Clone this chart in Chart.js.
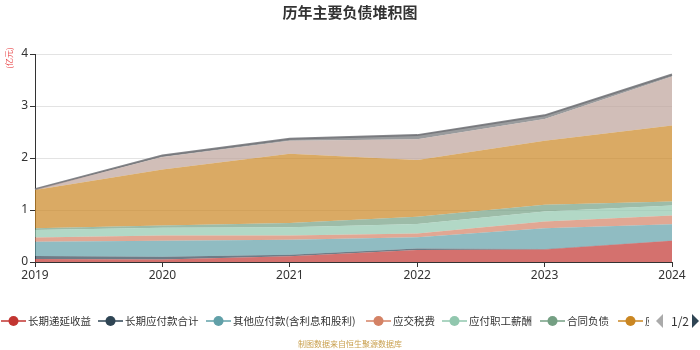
<!DOCTYPE html>
<html>
<head>
<meta charset="utf-8">
<script src="https://cdn.jsdelivr.net/npm/chart.js@4.4.1/dist/chart.umd.min.js"></script>
<style>
  html, body { margin: 0; padding: 0; background: #fff; }
  #wrap { position: relative; width: 700px; height: 350px; overflow: hidden; font-family: "Noto Sans CJK SC", "Noto Sans", sans-serif; }
  #c { position: absolute; left: 0; top: 0; }
  #title { position: absolute; top: 2px; left: 0; width: 700px; text-align: center; font-size: 15px; font-weight: bold; color: #333; line-height: 20px; }
  #unit { position: absolute; left: -4px; top: 52px; width: 26px; height: 12px; font-size: 8px; line-height: 12px; color: #e8484a; transform: rotate(-90deg); text-align: center; white-space: nowrap; }
  #legend { position: absolute; left: 0; top: 312px; width: 649px; height: 18px; overflow: hidden; }
  .li { position: absolute; top: 0; height: 18px; white-space: nowrap; }
  .li svg { position: absolute; left: 0; top: 3px; }
  .li span { position: absolute; left: 27px; top: 0; font-size: 10.5px; line-height: 18px; color: #333; }
  #pager { position: absolute; left: 654px; top: 312px; width: 46px; height: 18px; }
  #pager span { position: absolute; left: 17px; top: 0; font-size: 12px; line-height: 18px; color: #333; }
  #source { position: absolute; left: 0; top: 338px; width: 700px; text-align: center; font-size: 8px; line-height: 12px; color: #c9a04e; }
</style>
</head>
<body>
<div id="wrap">
  <canvas id="c" width="700" height="350"></canvas>
  <div id="title">历年主要负债堆积图</div>
  <div id="unit">(亿元)</div>
  <div id="legend"></div>
  <div id="pager">
    <svg width="46" height="18" style="position:absolute;left:0;top:0">
      <polygon points="9,2 9,16 2,9" fill="#aaaaaa"/>
      <polygon points="38,2 38,16 45,9" fill="#2f4554"/>
    </svg>
    <span>1/2</span>
  </div>
  <div id="source">制图数据来自恒生聚源数据库</div>
</div>
<script>
const years = ['2019', '2020', '2021', '2022', '2023', '2024'];
const seriesNames = ['长期递延收益', '长期应付款合计', '其他应付款(含利息和股利)', '应交税费', '应付职工薪酬', '合同负债', '应付票据及应付账款', '短期借款', '一年内到期的非流动负债'];
const deferredIncome   = [0.06, 0.05, 0.11, 0.23, 0.24, 0.41];
const longTermPayable  = [0.055, 0.05, 0.03, 0.03, 0.01, 0.005];
const otherPayable     = [0.275, 0.31, 0.29, 0.215, 0.40, 0.31];
const taxPayable       = [0.08, 0.10, 0.08, 0.075, 0.13, 0.17];
const staffPayable     = [0.145, 0.15, 0.16, 0.18, 0.19, 0.19];
const contractLiab     = [0.035, 0.04, 0.08, 0.14, 0.13, 0.08];
const notesPayable     = [0.735, 1.08, 1.33, 1.09, 1.23, 1.46];
const shortLoans       = [0.01, 0.24, 0.25, 0.40, 0.42, 0.94];
const currentNonCur    = [0.005, 0.03, 0.04, 0.08, 0.07, 0.04];
const yTicks = [0, 1, 2, 3, 4];

const seriesValues = [deferredIncome, longTermPayable, otherPayable, taxPayable, staffPayable, contractLiab, notesPayable, shortLoans, currentNonCur];
const palette = ['#c23531', '#2f4554', '#61a0a8', '#d48265', '#91c7ae', '#749f83', '#ca8622', '#bda29a', '#6e7074'];

function rgba(hex, a) {
  const n = parseInt(hex.slice(1), 16);
  return 'rgba(' + ((n >> 16) & 255) + ',' + ((n >> 8) & 255) + ',' + (n & 255) + ',' + a + ')';
}

const datasets = seriesValues.map((vals, i) => ({
  label: seriesNames[i],
  data: vals,
  fill: i === 0 ? 'origin' : '-1',
  backgroundColor: rgba(palette[i], 0.7),
  borderColor: i === 8 ? rgba(palette[i], 0.85) : rgba(palette[i], 0),
  borderWidth: i === 8 ? 2 : 0,
  pointRadius: 0,
  tension: 0
}));

new Chart(document.getElementById('c'), {
  type: 'line',
  data: { labels: years, datasets: datasets },
  options: {
    responsive: false,
    animation: false,
    layout: { padding: { top: 54, right: 28, left: 0, bottom: 0 } },
    plugins: { legend: { display: false }, tooltip: { enabled: false }, title: { display: false } },
    scales: {
      x: {
        offset: false,
        grid: { drawOnChartArea: false, drawTicks: true, tickLength: 5, tickColor: '#333' },
        border: { color: '#333', width: 1 },
        ticks: { color: '#333', font: { size: 12, family: 'Noto Sans, sans-serif' }, padding: 1, maxRotation: 0 },
        afterFit: (s) => { s.height = 88; }
      },
      y: {
        stacked: true,
        min: 0, max: 4,
        afterBuildTicks: (s) => { s.ticks = yTicks.map(v => ({ value: v })); },
        grid: { color: '#e3e3e3', tickColor: '#333', tickLength: 5 },
        border: { color: '#333', width: 1 },
        ticks: { color: '#333', font: { size: 12, family: 'Noto Sans, sans-serif' }, padding: 2 },
        afterFit: (s) => { s.width = 35; }
      }
    }
  }
});

// HTML legend (page 1 of 2, last item clipped as in the reference)
const legendLefts = [1, 98, 206, 366, 442, 540, 618];
const legend = document.getElementById('legend');
for (let i = 0; i < 7; i++) {
  const d = document.createElement('div');
  d.className = 'li';
  d.style.left = legendLefts[i] + 'px';
  d.innerHTML = '<svg width="25" height="12"><line x1="0" y1="6" x2="25" y2="6" stroke="' + palette[i] + '" stroke-width="1.5"/><circle cx="12.5" cy="6" r="5" fill="' + palette[i] + '"/></svg><span>' + seriesNames[i] + '</span>';
  legend.appendChild(d);
}
</script>
</body>
</html>
